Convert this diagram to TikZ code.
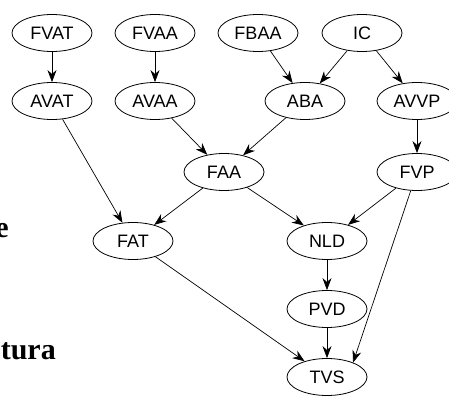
\documentclass[tikz,border=0pt]{standalone}
\usepackage{fontspec}
\setmainfont{Liberation Sans}
\newfontfamily\fragfont{Liberation Serif}
\usetikzlibrary{shapes.geometric,arrows.meta}

\begin{document}
\begin{tikzpicture}[x=1pt, y=-1pt, varStyle/.style={ellipse, draw, line width=0.8pt, minimum width=80pt, minimum height=37pt, inner sep=0pt, font=\fontsize{18}{21}\selectfont}, edgeStyle/.style={-{Stealth[length=12pt, width=9pt]}, line width=0.7pt}, fragStyle/.style={anchor=base east, inner sep=0pt, font=\fragfont\bfseries\fontsize{30}{34}\selectfont}]
                    \useasboundingbox (0,0) rectangle (449,396);
                    \clip (0,0) rectangle (449,396);

                    \node[fragStyle] (frag_e)    at (9, 237) {e};
                    \node[fragStyle] (frag_tura) at (56, 359) {tura};

                    \node[varStyle] (fvat) at ( 52, 33) {FVAT};
                    \node[varStyle] (fvaa) at (155, 33) {FVAA};
                    \node[varStyle] (fbaa) at (258, 33) {FBAA};
                    \node[varStyle] (ic)   at (362, 33) {IC};

                    \node[varStyle] (avat) at ( 52, 101) {AVAT};
                    \node[varStyle] (avaa) at (155, 101) {AVAA};
                    \node[varStyle] (aba)  at (305, 101) {ABA};
                    \node[varStyle] (avvp) at (417, 101) {AVVP};

                    \node[varStyle] (faa) at (224, 172) {FAA};
                    \node[varStyle] (fvp) at (417, 172) {FVP};

                    \node[varStyle] (fat) at (133, 241) {FAT};
                    \node[varStyle] (nld) at (327, 241) {NLD};

                    \node[varStyle] (pvd) at (327, 309) {PVD};
                    \node[varStyle] (tvs) at (327, 377) {TVS};

                    \draw[edgeStyle] (fvat) -- (avat);
                    \draw[edgeStyle] (fvaa) -- (avaa);
                    \draw[edgeStyle] (fbaa) -- (aba);
                    \draw[edgeStyle] (ic) -- (aba);
                    \draw[edgeStyle] (ic) -- (avvp);
                    \draw[edgeStyle] (avat) -- (fat);
                    \draw[edgeStyle] (avaa) -- (faa);
                    \draw[edgeStyle] (aba) -- (faa);
                    \draw[edgeStyle] (avvp) -- (fvp);
                    \draw[edgeStyle] (faa) -- (fat);
                    \draw[edgeStyle] (faa) -- (nld);
                    \draw[edgeStyle] (fvp) -- (nld);
                    \draw[edgeStyle] (fvp) -- (tvs.29);
                    \draw[edgeStyle] (fat) -- (tvs);
                    \draw[edgeStyle] (nld) -- (pvd);
                    \draw[edgeStyle] (pvd) -- (tvs);
                \end{tikzpicture}
\end{document}
